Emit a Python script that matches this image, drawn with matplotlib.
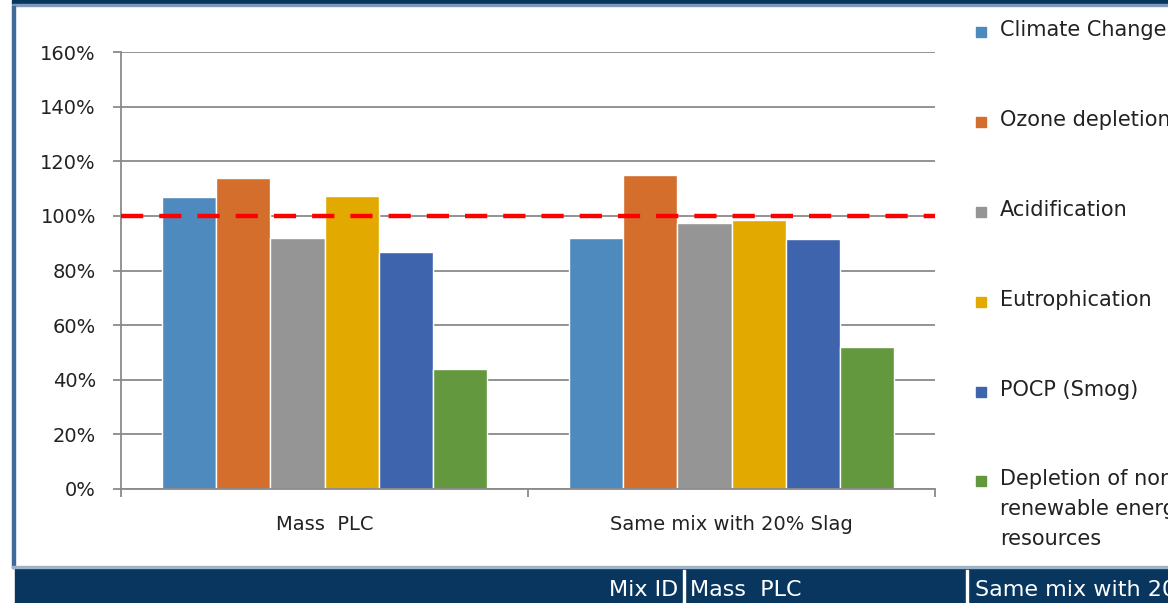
import matplotlib.pyplot as plt
from matplotlib.patches import Rectangle
from matplotlib.ticker import PercentFormatter, FixedLocator

plt.rcParams['font.family'] = ['DejaVu Sans']

# %% Data: impact of each mix relative to the reference (1.0 = 100%)
mixes = ["Mass  PLC", "Same mix with 20% Slag"]
impacts = ["Climate Change", "Ozone depletion", "Acidification",
           "Eutrophication", "POCP (Smog)",
           "Depletion of non-\nrenewable energy\nresources"]
climate_change = [1.07, 0.92]
ozone_depletion = [1.14, 1.15]
acidification = [0.92, 0.974]
eutrophication = [1.073, 0.985]
pocp_smog = [0.866, 0.915]
depletion = [0.44, 0.52]
series = [climate_change, ozone_depletion, acidification,
          eutrophication, pocp_smog, depletion]
reference_level = 1.0
band_labels = ["Mix ID", "Mass  PLC", "Same mix with 20% Slag"]

colors = ['#4f8abe', '#d46e2c', '#959595', '#e2aa00', '#3d64ad', '#63983f']
W, H = 1168, 603

# %% Figure and axes
fig = plt.figure(figsize=(W / 100, H / 100), dpi=100)
ax = fig.add_axes([121 / W, 1 - 489 / H, 814 / W, 437 / H])

n = len(series)
width = 0.8 / n
for i, (vals, color) in enumerate(zip(series, colors)):
    xs = [k - 0.4 + width * (i + 0.5) for k in range(len(mixes))]
    ax.bar(xs, vals, width=width, color=color, edgecolor='white',
           linewidth=1.0, zorder=2)

ax.axhline(reference_level, color='#ff0000', lw=3.2, dashes=(5.0, 3.6),
           zorder=3)

ax.set_xlim(-0.5, len(mixes) - 0.5)
ax.set_ylim(0, 1.6)
ax.set_yticks([i * 0.2 for i in range(9)])
ax.yaxis.set_major_formatter(PercentFormatter(xmax=1, decimals=0))
ax.grid(axis='y', color='#8a8a8a', lw=1.3, zorder=0)
ax.set_axisbelow(True)

ax.set_xticks(range(len(mixes)))
ax.set_xticklabels(mixes)
ax.xaxis.set_minor_locator(FixedLocator([-0.5, 0.5, 1.5]))
ax.tick_params(axis='x', which='major', length=0, pad=19, labelsize=14,
               labelcolor='#222222')
ax.tick_params(axis='x', which='minor', length=6, width=1.3,
               color='#8a8a8a', direction='out')
ax.tick_params(axis='y', length=6, width=1.3, color='#8a8a8a', pad=12,
               labelsize=14, labelcolor='#222222')

for side in ['top', 'right']:
    ax.spines[side].set_visible(False)
for side in ['left', 'bottom']:
    ax.spines[side].set_color('#8a8a8a')
    ax.spines[side].set_linewidth(1.3)

# %% Legend down the right side
legend_y = [32, 122, 212, 302, 392, 481]
for label, color, y in zip(impacts, colors, legend_y):
    fig.patches.append(Rectangle((976 / W, 1 - (y + 5) / H), 10 / W, 10 / H,
                                 transform=fig.transFigure, color=color))
    fig.text(1000 / W, 1 - (y - 12) / H, label, fontsize=15,
             color='#222222', va='top', ha='left', linespacing=1.62)

# %% Page frame: top strip, left border, bottom band
navy = '#08365e'
fig.patches.append(Rectangle((12 / W, 1 - 4 / H), 1 - 12 / W, 4 / H,
                             transform=fig.transFigure, color=navy))
fig.patches.append(Rectangle((12 / W, 1 - 6 / H), 1 - 12 / W, 2 / H,
                             transform=fig.transFigure, color='#7f9ab8'))
fig.patches.append(Rectangle((12 / W, 1 - 568 / H), 3 / W, 562 / H,
                             transform=fig.transFigure, color='#3e6b9a'))
fig.patches.append(Rectangle((15 / W, 0), 1 - 15 / W, 35 / H,
                             transform=fig.transFigure, color=navy))
fig.patches.append(Rectangle((12 / W, 35 / H), 1 - 12 / W, 2 / H,
                             transform=fig.transFigure, color='#9fb3c8'))
for x in [683, 966]:
    fig.patches.append(Rectangle((x / W, 0), 1.5 / W, 33 / H,
                                 transform=fig.transFigure, color='white'))
fig.text(678 / W, 13 / H, band_labels[0], color='white', fontsize=16,
         ha='right', va='center')
fig.text(690 / W, 13 / H, band_labels[1], color='white', fontsize=16,
         ha='left', va='center')
fig.text(975 / W, 13 / H, band_labels[2], color='white', fontsize=16,
         ha='left', va='center')

fig.savefig('out.png', dpi=100)
